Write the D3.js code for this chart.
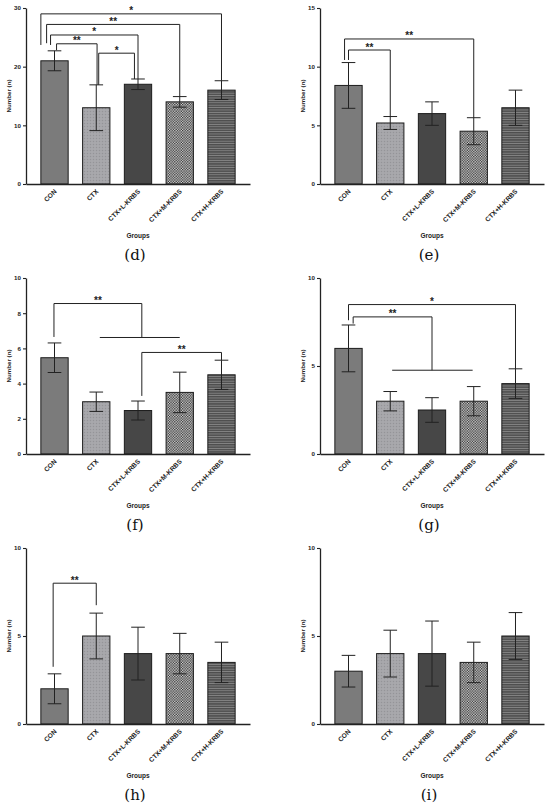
<!DOCTYPE html>
<html>
<head>
<meta charset="utf-8">
<style>
  html, body { margin: 0; padding: 0; background: #fff; }
  svg { display: block; }
  .axis text { font-family: 'Liberation Sans', Arial, sans-serif; font-weight: bold; fill: #222; }
  .axis path, .axis line { stroke: #222; }
</style>
</head>
<body>
<svg id="chart" width="550" height="809"></svg>
<script src="https://cdn.jsdelivr.net/npm/d3@7.9.0/dist/d3.min.js"></script>
<script>
const groups = ['CON', 'CTX', 'CTX+L-KRBS', 'CTX+M-KRBS', 'CTX+H-KRBS'];
const panelNames = ['(d)', '(e)', '(f)', '(g)', '(h)', '(i)'];
const yMax = [30, 15, 10, 10, 10, 10];
const yTicks = [
    [0, 10, 20, 30],
    [0, 5, 10, 15],
    [0, 2, 4, 6, 8, 10],
    [0, 5, 10],
    [0, 5, 10],
    [0, 5, 10],
];

// mean per group, one row per panel
const means = [
    [21, 13, 17, 14, 16],
    [8.4, 5.2, 6, 4.5, 6.5],
    [5.47, 2.97, 2.47, 3.5, 4.5],
    [6, 3, 2.5, 3, 4],
    [2, 5, 4, 4, 3.5],
    [3, 4, 4, 3.5, 5],
];

// error (+/-) per group
const errors = [
    [1.7, 3.9, 0.9, 0.9, 1.6],
    [1.95, 0.55, 1, 1.15, 1.5],
    [0.84, 0.55, 0.54, 1.15, 0.83],
    [1.33, 0.55, 0.7, 0.83, 0.84],
    [0.85, 1.3, 1.5, 1.15, 1.15],
    [0.9, 1.33, 1.85, 1.15, 1.33],
];

// significance brackets:
// panel, label, from group, offset in band, to group, offset in band, level, left leg end, right leg end
const brackets = [
    [0, '*', 0, -0.5, 4, 0, 29.0, 23.7, 17.6],
    [0, '**', 0, -0.29, 3, 0, 27.2, 24.0, 14.9],
    [0, '*', 0, -0.145, 2, 0, 25.4, 23.7, 17.9],
    [0, '**', 0, 0.075, 1, 0.03, 23.9, 22.8, 16.9],
    [0, '*', 1, 0.09, 2, -0.13, 22.3, 16.9, 17.9],
    [1, '**', 0, -0.145, 3, 0, 12.36, 10.57, 5.64],
    [1, '**', 0, 0, 1, 0, 11.42, 10.57, 5.76],
    [2, '**', 0, -0.02, 2, 0.14, 8.55, 6.65, 6.62],
    [2, '**', 2, 0.14, 4, 0, 5.77, 3.3, 5.33],
    [3, '*', 0, 0, 4, 0, 8.49, 7.6, 4.82],
    [3, '**', 0, 0.17, 2, 0, 7.79, 7.41, 4.76],
    [4, '**', 0, -0.05, 1, 0, 8.0, 3.25, 6.75],
];

// horizontal lines joining several groups: panel, from group, offset, to group, offset, level
const groupLines = [
    [2, 1, 0.13, 3, 0, 6.62],
    [3, 1, 0.07, 3, -0.04, 4.76],
];

const svg = d3.select('#chart');
svg.append('rect').attr('width', 550).attr('height', 809).attr('fill', '#fff');

// fill patterns
const defs = svg.append('defs');

const dots = defs.append('pattern')
    .attr('id', 'p-ctx')
    .attr('patternUnits', 'userSpaceOnUse')
    .attr('width', 3).attr('height', 3);
dots.append('rect').attr('width', 3).attr('height', 3).attr('fill', '#a5a5a9');
dots.append('rect').attr('x', 0).attr('y', 0).attr('width', 1).attr('height', 1).attr('fill', '#949498');
dots.append('rect').attr('x', 1.5).attr('y', 1.5).attr('width', 1).attr('height', 1).attr('fill', '#b3b3b6');

const checks = defs.append('pattern')
    .attr('id', 'p-mid')
    .attr('patternUnits', 'userSpaceOnUse')
    .attr('width', 2.6).attr('height', 2.6);
checks.append('rect').attr('width', 2.6).attr('height', 2.6).attr('fill', '#dcdcdc');
checks.append('rect').attr('width', 1.3).attr('height', 1.3).attr('fill', '#2a2a2a');
checks.append('rect').attr('x', 1.3).attr('y', 1.3).attr('width', 1.3).attr('height', 1.3).attr('fill', '#2a2a2a');

const stripes = defs.append('pattern')
    .attr('id', 'p-high')
    .attr('patternUnits', 'userSpaceOnUse')
    .attr('width', 4).attr('height', 2.4);
stripes.append('rect').attr('width', 4).attr('height', 2.4).attr('fill', '#4e4e4e');
stripes.append('rect').attr('y', 1.5).attr('width', 4).attr('height', 0.9).attr('fill', '#888888');

const fills = ['#7b7b7b', 'url(#p-ctx)', '#474747', 'url(#p-mid)', 'url(#p-high)'];

const ink = '#222';

panelNames.forEach((name, i) => {
    const col = i % 2;
    const row = Math.floor(i / 2);
    const dx = col * 294;
    const dy = row * 270;

    const x = d3.scaleBand()
        .domain(groups)
        .range([26 + dx, 250 + dx])
        .paddingInner(0.346)
        .paddingOuter(0.356);

    const y = d3.scaleLinear()
        .domain([0, yMax[i]])
        .range([184 + dy, 8 + dy]);

    const bw = x.bandwidth();
    const xAt = (g, off) => x(groups[g]) + bw / 2 + off * bw;

    const g = svg.append('g');

    // bars
    g.append('g')
        .selectAll('rect')
        .data(groups)
        .join('rect')
        .attr('x', d => x(d))
        .attr('y', (d, k) => y(means[i][k]))
        .attr('width', bw)
        .attr('height', (d, k) => y(0) - y(means[i][k]))
        .attr('fill', (d, k) => fills[k])
        .attr('stroke', '#1c1c1c')
        .attr('stroke-width', 1);

    // error bars
    const eb = g.append('g')
        .attr('stroke', ink)
        .attr('stroke-width', 1)
        .selectAll('g')
        .data(groups)
        .join('g');

    eb.append('line')
        .attr('x1', d => x(d) + bw / 2)
        .attr('x2', d => x(d) + bw / 2)
        .attr('y1', (d, k) => y(means[i][k] + errors[i][k]))
        .attr('y2', (d, k) => y(means[i][k] - errors[i][k]));

    [1, -1].forEach(sign => {
        eb.append('line')
            .attr('x1', d => x(d) + bw / 4)
            .attr('x2', d => x(d) + bw * 3 / 4)
            .attr('y1', (d, k) => y(means[i][k] + sign * errors[i][k]))
            .attr('y2', (d, k) => y(means[i][k] + sign * errors[i][k]));
    });

    // y axis
    const yAxis = g.append('g')
        .attr('class', 'axis')
        .attr('transform', `translate(${26 + dx},0)`)
        .call(d3.axisLeft(y).tickValues(yTicks[i]).tickSize(3).tickSizeOuter(0).tickPadding(2));
    yAxis.select('.domain').attr('stroke-width', 1.3);
    yAxis.selectAll('.tick line').attr('stroke-width', 1.1);
    yAxis.selectAll('.tick text').attr('font-size', 6.2);

    // x axis
    const xAxis = g.append('g')
        .attr('class', 'axis')
        .attr('transform', `translate(0,${y(0)})`)
        .call(d3.axisBottom(x).tickSize(0).tickSizeOuter(0));
    xAxis.select('.domain').attr('stroke-width', 1.3);
    xAxis.selectAll('.tick text')
        .attr('font-size', 6.6)
        .attr('y', null)
        .attr('dy', null)
        .attr('text-anchor', 'end')
        .attr('transform', 'translate(2.5,8) rotate(-45)');

    // axis titles
    g.append('text')
        .attr('transform', `translate(${10.5 + dx},${(184 + 8) / 2 + dy}) rotate(-90)`)
        .attr('text-anchor', 'middle')
        .attr('font-family', 'Liberation Sans, Arial, sans-serif')
        .attr('font-weight', 'bold')
        .attr('font-size', 6.2)
        .attr('fill', ink)
        .text('Number (n)');

    g.append('text')
        .attr('x', 138 + dx)
        .attr('y', 238 + dy)
        .attr('text-anchor', 'middle')
        .attr('font-family', 'Liberation Sans, Arial, sans-serif')
        .attr('font-weight', 'bold')
        .attr('font-size', 6.5)
        .attr('fill', ink)
        .text('Groups');

    // panel letter
    g.append('text')
        .attr('x', 135 + dx)
        .attr('y', 260 + dy)
        .attr('text-anchor', 'middle')
        .attr('font-family', 'DejaVu Serif, serif')
        .attr('font-size', 15)
        .attr('fill', '#111')
        .text(name);

    // group connector lines
    groupLines.filter(d => d[0] === i).forEach(([, a, ao, b, bo, lvl]) => {
        g.append('line')
            .attr('x1', xAt(a, ao)).attr('x2', xAt(b, bo))
            .attr('y1', y(lvl)).attr('y2', y(lvl))
            .attr('stroke', ink).attr('stroke-width', 1);
    });

    // significance brackets
    brackets.filter(d => d[0] === i).forEach(([, label, a, ao, b, bo, lvl, endA, endB]) => {
        const x1 = xAt(a, ao);
        const x2 = xAt(b, bo);
        g.append('path')
            .attr('d', d3.line()([[x1, y(endA)], [x1, y(lvl)], [x2, y(lvl)], [x2, y(endB)]]))
            .attr('fill', 'none')
            .attr('stroke', ink)
            .attr('stroke-width', 1);
        g.append('text')
            .attr('x', (x1 + x2) / 2)
            .attr('y', y(lvl) + 0.5)
            .attr('text-anchor', 'middle')
            .attr('font-family', 'Liberation Sans, Arial, sans-serif')
            .attr('font-weight', 'bold')
            .attr('font-size', 10)
            .attr('fill', ink)
            .text(label);
    });
});
</script>
</body>
</html>
